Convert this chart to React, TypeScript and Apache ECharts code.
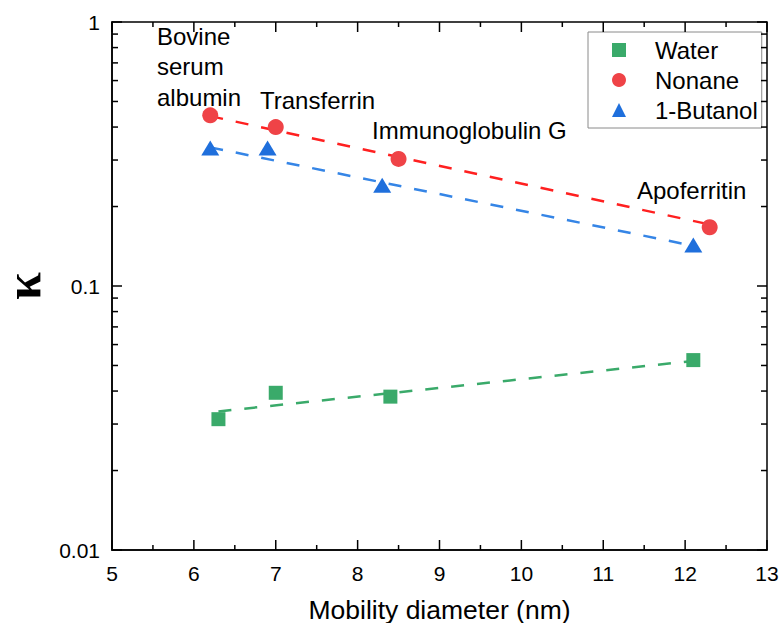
import React, { useEffect, useRef } from "react";
import * as echarts from "echarts";

// ---- axis ranges and tick values ----
const X_MIN = 5;
const X_MAX = 13;
const Y_MIN = 0.01;
const Y_MAX = 1;
const X_TICKS = [5, 6, 7, 8, 9, 10, 11, 12, 13];
const X_MINOR_TICKS = [5.5, 6.5, 7.5, 8.5, 9.5, 10.5, 11.5, 12.5];
const Y_TICKS = [0.01, 0.1, 1];
const Y_MINOR_TICKS = [0.02, 0.03, 0.04, 0.05, 0.06, 0.07, 0.08, 0.09, 0.2, 0.3, 0.4, 0.5, 0.6, 0.7, 0.8, 0.9];

// ---- data ----
const waterX = [6.3, 7.0, 8.4, 12.1];
const waterY = [0.0313, 0.0394, 0.0381, 0.0524];
const nonaneX = [6.2, 7.0, 8.5, 12.3];
const nonaneY = [0.443, 0.4, 0.303, 0.167];
const butanolX = [6.2, 6.9, 8.3, 12.1];
const butanolY = [0.333, 0.333, 0.241, 0.143];

const waterFitX = [6.3, 12.1];
const waterFitY = [0.0335, 0.052];
const nonaneFitX = [6.2, 12.3];
const nonaneFitY = [0.44, 0.171];
const butanolFitX = [6.2, 12.1];
const butanolFitY = [0.335, 0.142];

const seriesNames = ["Water", "Nonane", "1-Butanol"];
const proteinLabels = ["Bovine\nserum\nalbumin", "Transferrin", "Immunoglobulin G", "Apoferritin"];

const zip = (xs: number[], ys: number[]) => xs.map((x, i) => [x, ys[i]]);

const FONT = "'Liberation Sans', Arial, sans-serif";
const GREEN = "#3aaa6a";
const RED = "#ef4347";
const BLUE = "#1f6fdc";

// inward tick marks drawn as thin rect symbols on the axis frame
function tickSeries(name: string, data: number[][], size: number[], offset: number[]) {
  return {
    name,
    type: "scatter",
    data,
    symbol: "rect",
    symbolSize: size,
    symbolOffset: offset,
    itemStyle: { color: "#000", opacity: 1 },
    clip: false,
    silent: true,
    legendHoverLink: false,
    emphasis: { disabled: true },
    z: 4,
  };
}

export default function App() {
  const ref = useRef<HTMLDivElement>(null);

  useEffect(() => {
    if (!ref.current) return;
    const chart = echarts.init(ref.current, undefined, { renderer: "svg" });

    const ls = { color: "#000", width: 1.5 };
    const dash = [13, 13];
    const annFont = `24px ${FONT}`;
    const T = 1.5;

    const option: any = {
      animation: false,
      textStyle: { fontFamily: FONT },
      grid: {
        left: 112,
        right: 15,
        top: 22,
        bottom: 73,
        show: true,
        borderColor: "#000",
        borderWidth: 1.5,
        backgroundColor: "transparent",
        outerBoundsMode: "none",
        containLabel: false,
      },
      legend: {
        data: seriesNames,
        orient: "vertical",
        left: 588,
        top: 32,
        padding: [6, 4, 6, 24],
        itemWidth: 14,
        itemHeight: 14,
        itemGap: 6,
        borderColor: "#8a8a8a",
        borderWidth: 1,
        backgroundColor: "#fff",
        textStyle: { fontSize: 24, color: "#000", fontFamily: FONT, lineHeight: 24, padding: [0, 0, 0, 24] },
      },
      xAxis: {
        type: "value",
        min: X_MIN,
        max: X_MAX,
        interval: 1,
        axisLine: { show: true, onZero: false, lineStyle: ls },
        axisTick: { show: false },
        minorTick: { show: false },
        splitLine: { show: false },
        name: "Mobility diameter (nm)",
        nameLocation: "middle",
        nameGap: 46,
        nameTextStyle: { fontSize: 26.5, color: "#000", fontFamily: FONT },
        axisLabel: { show: true, fontSize: 21, color: "#000", margin: 13, fontFamily: FONT },
      },
      yAxis: {
        type: "log",
        logBase: 10,
        min: Y_MIN,
        max: Y_MAX,
        axisLine: { show: true, onZero: false, lineStyle: ls },
        axisTick: { show: false },
        splitLine: { show: false },
        name: "κ",
        nameLocation: "middle",
        nameGap: 62,
        nameTextStyle: { fontSize: 50, color: "#000", fontFamily: "'Liberation Serif', serif", fontWeight: "bold" },
        axisLabel: { show: true, fontSize: 21, color: "#000", margin: 12, fontFamily: FONT },
      },
      series: [
        {
          name: "Water fit",
          type: "line",
          data: zip(waterFitX, waterFitY),
          symbol: "none",
          lineStyle: { color: GREEN, width: 2.5, type: dash },
          z: 2,
          silent: true,
        },
        {
          name: "Nonane fit",
          type: "line",
          data: zip(nonaneFitX, nonaneFitY),
          symbol: "none",
          lineStyle: { color: "#ff2020", width: 2.5, type: dash },
          z: 2,
          silent: true,
        },
        {
          name: "1-Butanol fit",
          type: "line",
          data: zip(butanolFitX, butanolFitY),
          symbol: "none",
          lineStyle: { color: "#3585e6", width: 2.5, type: dash },
          z: 2,
          silent: true,
        },
        {
          name: "Water",
          type: "scatter",
          data: zip(waterX, waterY),
          symbol: "rect",
          symbolSize: 14,
          itemStyle: { color: GREEN, opacity: 1 },
          z: 3,
        },
        {
          name: "Nonane",
          type: "scatter",
          data: zip(nonaneX, nonaneY),
          symbol: "circle",
          symbolSize: 16,
          itemStyle: { color: RED, opacity: 1 },
          z: 3,
        },
        {
          name: "1-Butanol",
          type: "scatter",
          data: zip(butanolX, butanolY),
          symbol: "triangle",
          symbolSize: [18, 15],
          itemStyle: { color: BLUE, opacity: 1 },
          z: 3,
        },
        tickSeries("x ticks bottom", X_TICKS.map((v) => [v, Y_MIN]), [T, 10], [0, -5]),
        tickSeries("x ticks top", X_TICKS.map((v) => [v, Y_MAX]), [T, 10], [0, 5]),
        tickSeries("x minor bottom", X_MINOR_TICKS.map((v) => [v, Y_MIN]), [T, 5], [0, -2.5]),
        tickSeries("x minor top", X_MINOR_TICKS.map((v) => [v, Y_MAX]), [T, 5], [0, 2.5]),
        tickSeries("y ticks left", Y_TICKS.map((v) => [X_MIN, v]), [10, T], [5, 0]),
        tickSeries("y ticks right", Y_TICKS.map((v) => [X_MAX, v]), [10, T], [-5, 0]),
        tickSeries("y minor left", Y_MINOR_TICKS.map((v) => [X_MIN, v]), [6, T], [3, 0]),
        tickSeries("y minor right", Y_MINOR_TICKS.map((v) => [X_MAX, v]), [6, T], [-3, 0]),
      ],
      graphic: [
        {
          type: "text",
          left: 157,
          top: 21,
          style: { text: proteinLabels[0], font: annFont, fill: "#000", lineHeight: 30.5 },
        },
        {
          type: "text",
          x: 260,
          y: 100,
          style: { text: proteinLabels[1], font: annFont, fill: "#000", verticalAlign: "middle" },
        },
        {
          type: "text",
          x: 372,
          y: 130,
          style: { text: proteinLabels[2], font: annFont, fill: "#000", verticalAlign: "middle" },
        },
        {
          type: "text",
          x: 637,
          y: 190,
          style: { text: proteinLabels[3], font: annFont, fill: "#000", verticalAlign: "middle" },
        },
      ],
    };

    chart.setOption(option);
    return () => chart.dispose();
  }, []);

  return (
    <div
      ref={ref}
      style={{ position: "fixed", left: 0, top: 0, width: 782, height: 623, background: "#fff" }}
    />
  );
}
